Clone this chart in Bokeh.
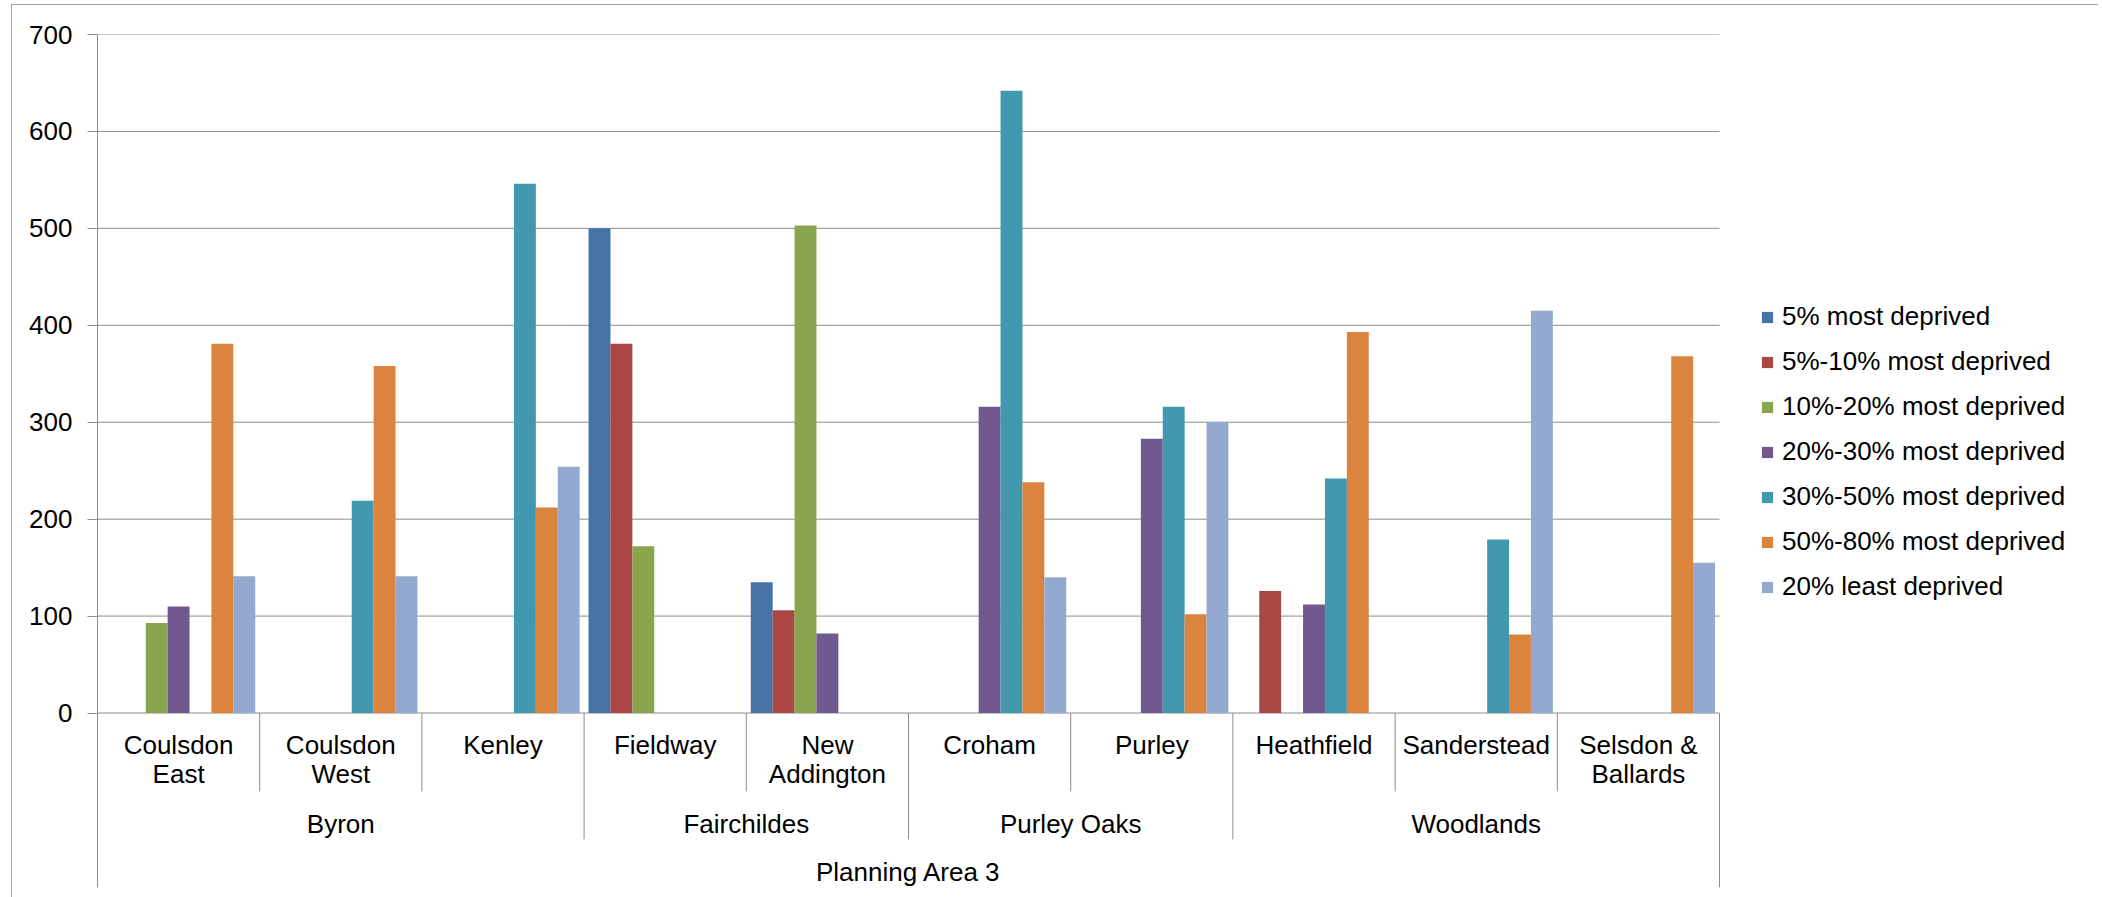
from bokeh.plotting import figure
from bokeh.models import Range1d, FixedTicker, Legend, LegendItem
from bokeh.embed import file_html
from bokeh.resources import INLINE
from bokeh.core.properties import value

# ---------------- data ----------------
districts = ["Coulsdon\nEast", "Coulsdon\nWest", "Kenley", "Fieldway", "New\nAddington",
             "Croham", "Purley", "Heathfield", "Sanderstead", "Selsdon &\nBallards"]
wards = ["Byron", "Fairchildes", "Purley Oaks", "Woodlands"]
ward_sizes = [3, 2, 2, 3]
area = "Planning Area 3"

series_names = ["5% most deprived", "5%-10% most deprived", "10%-20% most deprived",
                "20%-30% most deprived", "30%-50% most deprived", "50%-80% most deprived",
                "20% least deprived"]
most_5 = [0, 0, 0, 500, 135, 0, 0, 0, 0, 0]
most_5_10 = [0, 0, 0, 381, 106, 0, 0, 126, 0, 0]
most_10_20 = [93, 0, 0, 172, 503, 0, 0, 0, 0, 0]
most_20_30 = [110, 0, 0, 0, 82, 316, 283, 112, 0, 0]
most_30_50 = [0, 219, 546, 0, 0, 642, 316, 242, 179, 0]
most_50_80 = [381, 358, 212, 0, 0, 238, 102, 393, 81, 368]
least_20 = [141, 141, 254, 0, 0, 140, 300, 0, 415, 155]
series_values = [most_5, most_5_10, most_10_20, most_20_30, most_30_50, most_50_80, least_20]
y_ticks = [0, 100, 200, 300, 400, 500, 600, 700]

# ---------------- style ----------------
colors = ["#4572A7", "#AA4643", "#89A54E", "#71588F", "#4198AF", "#DB843D", "#93A9CF"]
FONT = "Liberation Sans"
FSIZE = "26px"
GRAY = "#8c8c8c"
BAR_W = 0.135
Y_MIN, Y_MAX = -180, 700
LINE1_Y, LINE2_Y = -33.3, -63.2
WARD_Y, AREA_Y = -114.8, -164.3
DIST_SEP_Y, WARD_SEP_Y = -80.8, -130.3

n = len(districts)
# frame is 1991 px wide; the categories occupy the first 1622 px, the rest holds the legend
X_END = n * 1991 / 1622
p = figure(width=2087, height=893, output_backend="svg", toolbar_location=None,
           x_range=Range1d(0, X_END), y_range=Range1d(Y_MIN, Y_MAX),
           x_axis_location=None, min_border_left=86, min_border_right=10,
           min_border_top=30, min_border_bottom=10)
p.outline_line_color = None
p.background_fill_color = "white"
p.border_fill_color = "white"
p.styles = {"margin-left": "11px", "margin-top": "4px",
            "outline": "2px solid #878787", "outline-offset": "-2px"}

# y axis
p.yaxis.ticker = FixedTicker(ticks=y_ticks)
p.yaxis.axis_line_color = GRAY
p.yaxis.major_tick_line_color = GRAY
p.yaxis.major_tick_out = 10
p.yaxis.major_tick_in = 0
p.yaxis.minor_tick_line_color = None
p.yaxis.major_label_standoff = 15
p.yaxis.major_label_text_font = FONT
p.yaxis.major_label_text_font_size = FSIZE
p.yaxis.major_label_text_color = "black"
p.ygrid.grid_line_color = None
p.xgrid.grid_line_color = None

# horizontal gridlines, only across the category area
p.segment(x0=[0] * len(y_ticks), y0=y_ticks, x1=[n] * len(y_ticks), y1=y_ticks,
          line_color=GRAY, line_width=1)

# bars
k_mid = (len(series_names) - 1) / 2
items = []
for k, (name, vals, col) in enumerate(zip(series_names, series_values, colors)):
    xs = [i + 0.5 + (k - k_mid) * BAR_W for i in range(n)]
    r = p.vbar(x=xs, top=vals, bottom=0, width=BAR_W, fill_color=col, line_color=None)
    items.append(LegendItem(label=name, renderers=[r]))

# category separators
ward_bounds = []
acc = 0
for s in ward_sizes:
    acc += s
    ward_bounds.append(acc)
sx, sy0, sy1 = [], [], []
for b in range(1, n + 1):
    sx.append(b)
    sy0.append(0)
    if b == n:
        sy1.append(Y_MIN)
    elif b in ward_bounds:
        sy1.append(WARD_SEP_Y)
    else:
        sy1.append(DIST_SEP_Y)
p.segment(x0=sx, y0=sy0, x1=sx, y1=sy1, line_color=GRAY, line_width=1)

# district labels
line1 = [d.split("\n")[0] for d in districts]
line2 = [d.split("\n")[1] if "\n" in d else "" for d in districts]
cx = [i + 0.5 for i in range(n)]
tkw = dict(text_font=value(FONT), text_font_size=FSIZE, text_color="black",
           text_align="center", text_baseline="middle")
p.text(x=cx, y=[LINE1_Y] * n, text=line1, **tkw)
p.text(x=cx, y=[LINE2_Y] * n, text=line2, **tkw)

# ward labels
wx = []
start = 0
for s in ward_sizes:
    wx.append(start + s / 2)
    start += s
p.text(x=wx, y=[WARD_Y] * len(wards), text=wards, **tkw)
p.text(x=[n / 2], y=[AREA_Y], text=[area], **tkw)

legend = Legend(items=items, location=(1663, 285), glyph_width=14, glyph_height=14,
                label_standoff=8, label_text_font=FONT, label_text_font_size=FSIZE,
                label_text_color="black", label_height=31, spacing=14, padding=0,
                margin=0, border_line_color=None, background_fill_alpha=0)
p.add_layout(legend, "center")

open("out.html", "w").write(file_html(p, INLINE))
